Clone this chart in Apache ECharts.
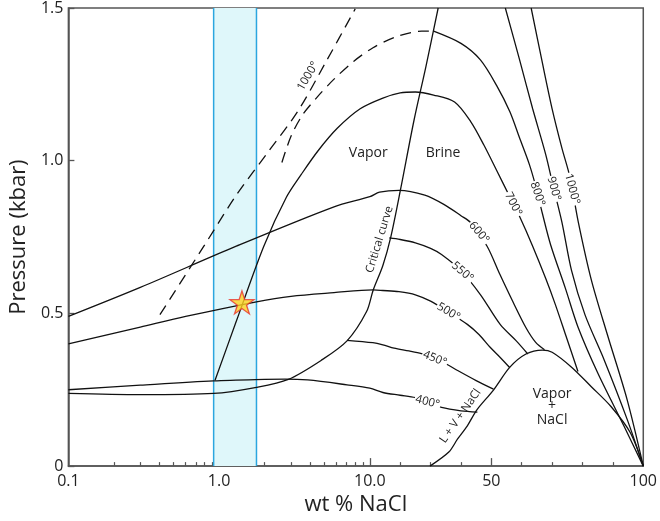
<!DOCTYPE html>
<html><head><meta charset="utf-8">
<script src="https://cdn.jsdelivr.net/npm/echarts@6/dist/echarts.min.js"></script>
<style>html,body{margin:0;padding:0;background:#fff}#c{width:660px;height:521px}</style>
</head><body><div id="c"></div>
<script>
// ---- axis ticks ----
const xTickValues = [0.1, 1, 10, 50, 100];
const xTickLabels = ['0.1', '1.0', '10.0', '50', '100'];
const xMajorTicks = [1, 10, 50];
const xMinorTicks = [0.2,0.3,0.4,0.5,0.6,0.7,0.8,0.9,2,3,4,5,6,7,8,9,20,30,40,60,70,80,90];
const yTickValues = [0, 0.5, 1.0, 1.5];
const yTickLabels = ['0', '0.5', '1.0', '1.5'];

// ---- curves: [wt % NaCl, pressure kbar] ----
const criticalCurve = [[0.1,0.238],[0.3,0.234],[0.92,0.238],[1.77,0.258],[2.88,0.284],[4.75,0.346],[7.06,0.41],[9.52,0.506],[11.1,0.576],[14.3,0.657],[16.9,0.75],[20.1,0.905],[24.5,1.13],[28.5,1.31],[32.5,1.5]];
const iso400 = [[0.1,0.25],[0.3,0.265],[0.92,0.279],[2.0,0.284],[2.74,0.285],[3.87,0.282],[7.06,0.266],[10,0.255],[14.3,0.241],[20,0.232],[25,0.224],[30,0.207],[33.6,0.192],[40,0.181],[45.4,0.177]];
const iso450 = [[7.06,0.412],[11,0.404],[14.3,0.397],[18,0.386],[22.9,0.377],[27,0.368],[31.4,0.352],[35,0.335],[38.9,0.313],[45,0.28],[50.7,0.252]];
const iso500 = [[0.1,0.40],[0.3,0.455],[0.6,0.49],[1.77,0.538],[3,0.556],[5.79,0.568],[11.06,0.577],[14.3,0.575],[19.6,0.571],[25,0.561],[30,0.54],[35,0.51],[42.1,0.464],[46,0.43],[49.6,0.389],[53,0.355],[56.1,0.322]];
const iso550 = [[16.4,0.747],[20,0.742],[25,0.731],[30,0.713],[33.6,0.693],[40,0.64],[46.5,0.56],[52.9,0.464],[58.2,0.41],[62,0.367]];
const iso600 = [[0.1,0.49],[0.3,0.585],[1.3,0.72],[5.79,0.849],[10,0.882],[13.2,0.897],[19.6,0.903],[28.1,0.887],[34.5,0.856],[40,0.82],[43.2,0.797],[48.6,0.72],[52.8,0.628],[57.1,0.538],[61.4,0.453],[64.6,0.405],[67.5,0.381]];
const iso700 = [[0.94,0.281],[1.3,0.474],[1.98,0.72],[2.8,0.881],[3.52,0.956],[4.51,1.031],[6.08,1.106],[8.63,1.17],[14.3,1.205],[20,1.222],[25,1.225],[31,1.215],[37.9,1.192],[43.2,1.128],[47.5,1.052],[51.8,0.967],[56.1,0.881],[59.3,0.817],[63.6,0.72],[67.9,0.614],[71.1,0.528],[74.4,0.431],[78.5,0.31]];
const iso800Vapor = [[2.61,0.994],[3.0,1.08],[3.59,1.151],[4.49,1.209],[5.79,1.267],[7.8,1.325],[11.06,1.37],[18.45,1.405],[27.1,1.424],[31,1.424]];
const iso800 = [[31,1.424],[40,1.384],[46.4,1.33],[51.8,1.245],[56.1,1.16],[59.3,1.074],[62.5,0.988],[64.7,0.913],[66.8,0.827],[69.5,0.725],[74.4,0.581],[78.6,0.453],[85.1,0.303],[93.6,0.132],[100,0]];
const iso900 = [[54.6,1.5],[59.3,1.33],[63.6,1.17],[67.9,1.02],[70.5,0.91],[73.2,0.80],[76.4,0.64],[80.8,0.496],[87.2,0.346],[94.7,0.153],[100,0]];
const iso1000 = [[63.1,1.5],[66.8,1.32],[70,1.17],[73.2,1.042],[75.9,0.945],[78.6,0.80],[82.9,0.61],[88.2,0.43],[94.7,0.217],[100,0]];
const iso1000Vapor = [[0.405,0.496],[0.792,0.72],[1.30,0.887],[2.14,1.032],[3.35,1.164],[5.12,1.324],[8.0,1.497]];
const haliteDome = [[29.8,0],[36,0.046],[38.9,0.089],[42.1,0.132],[45.3,0.185],[50.7,0.249],[56.1,0.324],[61.4,0.367],[66.8,0.38],[70,0.373],[76.4,0.324],[82.9,0.26],[89.3,0.196],[95.7,0.11],[100,0]];

// ---- highlighted salinity band and sample point ----
const bandRange = [0.92, 1.77];
const samplePoint = [1.418, 0.536];

// ---- text annotations (data coordinates); bg = label interrupts its line ----
const annotations = [
  {t:'Vapor', w:9.76, p:1.024, r:0, s:14},
  {t:'Brine', w:34.1, p:1.024, r:0, s:14},
  {t:'Critical curve', w:13.2, p:0.742, r:73, s:11.5},
  {t:'1000°', w:3.89, p:1.277, r:60, s:11.5},
  {t:'700°', w:57.2, p:0.858, r:-63, s:11.5, bg:1},
  {t:'800°', w:65.2, p:0.891, r:-72, s:11.5, bg:1},
  {t:'900°', w:70.6, p:0.908, r:-74, s:11.5, bg:1},
  {t:'1000°', w:76.6, p:0.907, r:-75, s:11.5, bg:1},
  {t:'600°', w:45.9, p:0.765, r:-50, s:11.5, bg:1},
  {t:'550°', w:40.5, p:0.636, r:-40, s:11.5, bg:1},
  {t:'500°', w:35.9, p:0.505, r:-30, s:11.5, bg:1},
  {t:'450°', w:31.4, p:0.352, r:-22, s:11.5, bg:1},
  {t:'400°', w:29.0, p:0.21, r:-15, s:11.5, bg:1},
  {t:'L + V + NaCl', w:39.8, p:0.164, r:55, s:11.5},
  {t:'Vapor', w:70, p:0.235, r:0, s:14},
  {t:'+', w:70, p:0.197, r:0, s:14},
  {t:'NaCl', w:70, p:0.150, r:0, s:14}
];

// x scale: log10 from 0.1 to 10, linear from 10 to 100
const K = 280 / 154.3;
function U(w) { return w <= 10 ? Math.log10(w) + 1 : 2 + (w - 10) / 90 * K; }
const XMAX = U(100);
const FONT = "'Open Sans', 'Noto Sans', sans-serif";
const AX = '#555';

function labelFor(v) {
  for (let i = 0; i < xTickValues.length; i++) if (Math.abs(U(xTickValues[i]) - v) < 1e-6) return xTickLabels[i];
  return '';
}
function tr(arr) { return arr.map(d => [U(d[0]), d[1]]); }
function line(name, arr, dashed) {
  return {
    name: name, type: 'line', data: tr(arr), showSymbol: false, smooth: 0.3,
    lineStyle: { color: '#111', width: 1.3, type: dashed ? [11, 7] : 'solid' },
    z: 3, silent: true, animation: false
  };
}

const chart = echarts.init(document.getElementById('c'), null, { renderer: 'canvas' });
chart.setOption({
  animation: false,
  grid: { left: 58, right: 13, top: 7, bottom: 47, show: true, borderColor: AX, borderWidth: 1.5, backgroundColor: 'transparent' },
  xAxis: [
    {
      type: 'value', min: 0, max: XMAX, position: 'bottom',
      name: 'wt % NaCl', nameLocation: 'middle', nameGap: 27,
      nameTextStyle: { fontFamily: FONT, fontSize: 22, color: '#222' },
      axisLine: { show: true, lineStyle: { color: AX, width: 1.5 } },
      axisTick: { show: true, inside: true, length: 8, customValues: xMajorTicks.map(U), lineStyle: { color: AX, width: 1.3 } },
      axisLabel: { show: true, customValues: xTickValues.map(U), formatter: v => labelFor(v), fontFamily: FONT, fontSize: 16, color: '#222', margin: 7, showMinLabel: true, showMaxLabel: true },
      splitLine: { show: false }
    },
    {
      type: 'value', min: 0, max: XMAX, position: 'bottom', gridIndex: 0,
      axisLine: { show: false },
      axisTick: { show: true, inside: true, length: 4, customValues: xMinorTicks.map(U), lineStyle: { color: AX, width: 1.2 } },
      axisLabel: { show: false },
      splitLine: { show: false }
    }
  ],
  yAxis: {
    type: 'value', min: 0, max: 1.5, interval: 0.5,
    name: 'Pressure (kbar)', nameLocation: 'middle', nameGap: 36, nameRotate: 90,
    nameTextStyle: { fontFamily: FONT, fontSize: 22, color: '#222' },
    axisLine: { show: true, lineStyle: { color: AX, width: 1.5 } },
    axisTick: { show: true, inside: true, length: 6, lineStyle: { color: AX, width: 1.3 } },
    axisLabel: { fontFamily: FONT, fontSize: 16, color: '#222', margin: 5, formatter: v => yTickLabels[yTickValues.findIndex(t => Math.abs(t - v) < 1e-6)] },
    splitLine: { show: false }
  },
  series: [
    {
      type: 'custom', name: 'band', z: 1, silent: true,
      data: [[U(bandRange[0]), 0, U(bandRange[1]), 1.5]],
      encode: { x: [0, 2], y: [1, 3] },
      renderItem: function (params, api) {
        const a = api.coord([api.value(0), api.value(3)]);
        const b = api.coord([api.value(2), api.value(1)]);
        return { type: 'group', children: [
          { type: 'rect', shape: { x: a[0], y: a[1], width: b[0] - a[0], height: b[1] - a[1] }, style: { fill: '#dff7fa' } },
          { type: 'line', shape: { x1: a[0], y1: a[1], x2: a[0], y2: b[1] }, style: { stroke: '#2ba6df', lineWidth: 1.5 } },
          { type: 'line', shape: { x1: b[0], y1: a[1], x2: b[0], y2: b[1] }, style: { stroke: '#2ba6df', lineWidth: 1.5 } }
        ] };
      }
    },
    line('critical', criticalCurve),
    line('400', iso400),
    line('450', iso450),
    line('500', iso500),
    line('550', iso550),
    line('600', iso600),
    line('700', iso700),
    line('800v', iso800Vapor, true),
    line('800', iso800),
    line('900', iso900),
    line('1000', iso1000),
    line('1000v', iso1000Vapor, true),
    line('halite', haliteDome),
    {
      type: 'scatter', name: 'sample', z: 6, silent: true,
      data: [[U(samplePoint[0]), samplePoint[1]]],
      symbol: 'path://M12,0 L14.69,8.29 L23.41,8.29 L16.36,13.42 L19.05,21.71 L12,16.58 L4.95,21.71 L7.64,13.42 L0.59,8.29 L9.31,8.29 Z',
      symbolSize: [24, 23],
      itemStyle: { color: '#ffd21f', borderColor: '#e8332a', borderWidth: 1.3 }
    },
    {
      type: 'custom', name: 'labels', z: 7, silent: true,
      data: annotations.map((a, i) => [U(a.w), a.p, i]),
      renderItem: function (params, api) {
        const a = annotations[api.value(2)];
        const p = api.coord([api.value(0), api.value(1)]);
        const st = { text: a.t, fontFamily: FONT, fontSize: a.s, fill: '#222', align: 'center', verticalAlign: 'middle' };
        if (a.bg) { st.backgroundColor = '#fff'; st.padding = [0, 1]; }
        return { type: 'text', x: p[0], y: p[1], rotation: a.r * Math.PI / 180, style: st };
      }
    }
  ]
});
</script></body></html>
